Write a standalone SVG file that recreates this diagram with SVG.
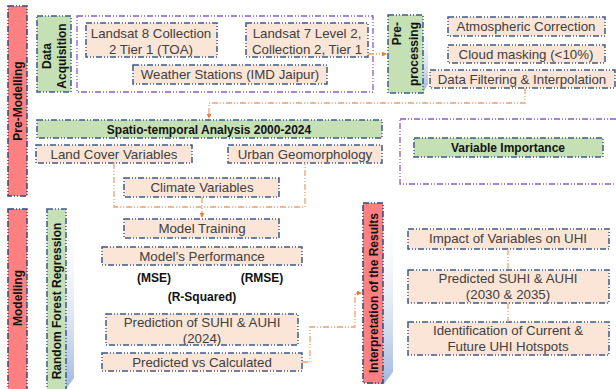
<svg xmlns="http://www.w3.org/2000/svg" width="616" height="389" viewBox="0 0 616 389">
<defs>
<linearGradient id="blueg" x1="0" y1="0" x2="0" y2="1">
<stop offset="0" stop-color="#ffffff" stop-opacity="0"/>
<stop offset="1" stop-color="#9fb7e0"/>
</linearGradient>
<marker id="arr" viewBox="0 0 6 6" refX="5" refY="3" markerWidth="5" markerHeight="5" orient="auto" markerUnits="userSpaceOnUse">
<path d="M0,0 L6,3 L0,6 z" fill="#ed7d31"/>
</marker>
</defs>
<style>
.box{fill:#fbe5d6;stroke:#3e5a8a;stroke-width:1.5;stroke-dasharray:6 2 1 2 1 2;}
.grn{fill:#c5e0b4;stroke:#3e5a8a;stroke-width:1.5;stroke-dasharray:6 2 1 2 1 2;}
.red{fill:#ff8080;stroke:#2f4a7a;stroke-width:1.5;stroke-dasharray:6 2 1 2 1 2;}
.pur{fill:none;stroke:#8a5cc4;stroke-width:1.3;stroke-dasharray:6 2 1 2 1 2;}
.con{fill:none;stroke:#f0a06a;stroke-width:1.3;stroke-dasharray:6 2 1 2 1 2;}
.t{font-family:"Liberation Sans",Arial,sans-serif;font-size:13.3px;fill:#404040;text-anchor:middle;}
.b{font-family:"Liberation Sans",Arial,sans-serif;font-size:12px;font-weight:bold;fill:#111;text-anchor:middle;}
.e{text-anchor:end;}
.sh{fill:url(#blueg);}
</style>

<g id="pre-modelling">
<rect class="red" x="8" y="6" width="19" height="190"/>
<text class="b" transform="translate(21.5,101) rotate(-90)">Pre-Modelling</text>
</g>

<g id="data-acquisition">
<rect class="grn" x="37" y="16" width="34" height="76"/>
<text class="b" transform="translate(51,56) rotate(-90)">Data</text>
<text class="b" transform="translate(66,56) rotate(-90)">Acquisition</text>
</g>

<g id="acq-group">
<rect class="pur" x="77" y="16" width="296" height="76"/>
</g>

<g id="landsat8">
<rect class="box" x="86" y="23" width="131" height="34"/>
<text class="t" x="151" y="38">Landsat 8 Collection</text>
<text class="t" x="151" y="54">2 Tier 1 (TOA)</text>
</g>

<g id="landsat7">
<rect class="box" x="246" y="23" width="122" height="34"/>
<text class="t" x="307" y="38">Landsat 7 Level 2,</text>
<text class="t" x="307" y="54">Collection 2, Tier 1</text>
</g>

<g id="weather">
<rect class="box" x="133" y="65" width="194" height="19"/>
<text class="t" x="230" y="79">Weather Stations (IMD Jaipur)</text>
</g>

<g id="pre-processing">
<path class="sh" d="M392,15 H428 V84 L423,93 H392 z"/>
<rect class="grn" x="388" y="15" width="35" height="78"/>
<text class="b e" transform="translate(401,22) rotate(-90)">Pre-</text>
<text class="b e" transform="translate(418,22) rotate(-90)">processing</text>
</g>

<g id="atmospheric">
<rect class="box" x="448" y="17" width="157" height="19"/>
<text class="t" x="526" y="31">Atmospheric Correction</text>
</g>

<g id="cloud">
<rect class="box" x="448" y="45" width="157" height="18"/>
<text class="t" x="526" y="59">Cloud masking (&lt;10%)</text>
</g>

<g id="filtering">
<rect class="box" x="430" y="70" width="185" height="18"/>
<text class="t" x="522" y="84">Data Filtering &amp; Interpolation</text>
</g>

<g id="spatio">
<rect class="grn" x="37" y="120" width="345" height="18"/>
<text class="b" x="209" y="134">Spatio-temporal Analysis 2000-2024</text>
</g>

<g id="land-cover">
<rect class="box" x="36" y="145" width="156" height="18"/>
<text class="t" x="114" y="159">Land Cover Variables</text>
</g>

<g id="urban">
<rect class="box" x="228" y="145" width="154" height="18"/>
<text class="t" x="305" y="159">Urban Geomorphology</text>
</g>

<g id="climate">
<rect class="box" x="124" y="178" width="155" height="19"/>
<text class="t" x="202" y="192">Climate Variables</text>
</g>

<g id="vi-group">
<rect class="pur" x="400" y="119" width="220" height="65"/>
</g>

<g id="variable-importance">
<rect class="grn" x="414" y="138" width="189" height="19"/>
<text class="b" x="508" y="152">Variable Importance</text>
</g>

<g id="modelling">
<rect class="red" x="8" y="209" width="19" height="186"/>
<text class="b" transform="translate(21.5,298) rotate(-90)">Modelling</text>
</g>

<g id="random-forest">
<path class="sh" d="M51,209 H74 V378 L66,389 H51 z"/>
<rect class="grn" x="47" y="209" width="19" height="186"/>
<text class="b" transform="translate(61,301) rotate(-90)">Random Forest Regression</text>
</g>

<g id="model-training">
<rect class="box" x="124" y="219" width="155" height="19"/>
<text class="t" x="202" y="233">Model Training</text>
</g>

<g id="performance">
<rect class="box" x="102" y="247" width="200" height="18"/>
<text class="t" x="202" y="261">Model’s Performance</text>
</g>

<g id="metrics">
<text class="b" x="154" y="282">(MSE)</text>
<text class="b" x="262" y="282">(RMSE)</text>
<text class="b" x="202" y="301">(R-Squared)</text>
</g>

<g id="prediction-2024">
<rect class="box" x="106" y="314" width="192" height="31"/>
<text class="t" x="202" y="327">Prediction of SUHI &amp; AUHI</text>
<text class="t" x="202" y="343">(2024)</text>
</g>

<g id="pred-vs-calc">
<rect class="box" x="102" y="353" width="200" height="18"/>
<text class="t" x="202" y="367">Predicted vs Calculated</text>
</g>

<g id="interpretation">
<path class="sh" d="M367,203 H393 V372 L384,384 H367 z"/>
<rect class="red" x="363" y="203" width="20" height="180"/>
<text class="b" transform="translate(377.5,293) rotate(-90)">Interpretation of the Results</text>
</g>

<g id="impact">
<rect class="box" x="408" y="229" width="201" height="20"/>
<text class="t" x="508" y="243">Impact of Variables on UHI</text>
</g>

<g id="predicted-future">
<rect class="box" x="408" y="270" width="201" height="33"/>
<text class="t" x="508" y="283">Predicted SUHI &amp; AUHI</text>
<text class="t" x="508" y="299">(2030 &amp; 2035)</text>
</g>

<g id="hotspots">
<rect class="box" x="408" y="322" width="201" height="33"/>
<text class="t" x="508" y="335">Identification of Current &amp;</text>
<text class="t" x="508" y="351">Future UHI Hotspots</text>
</g>

<g id="connectors">
<path class="con" d="M368,54 H386" marker-end="url(#arr)"/>
<path class="con" d="M525,88 V103 H209 V118" marker-end="url(#arr)"/>
<path class="con" d="M114,163 V207 H305 V163"/>
<path class="con" d="M202,197 V217" marker-end="url(#arr)"/>
<path class="con" d="M302,362 H310 V327 H355 V293 H361" marker-end="url(#arr)"/>
<path class="con" d="M508,249 V270"/>
<path class="con" d="M508,303 V322"/>
</g>
</svg>
